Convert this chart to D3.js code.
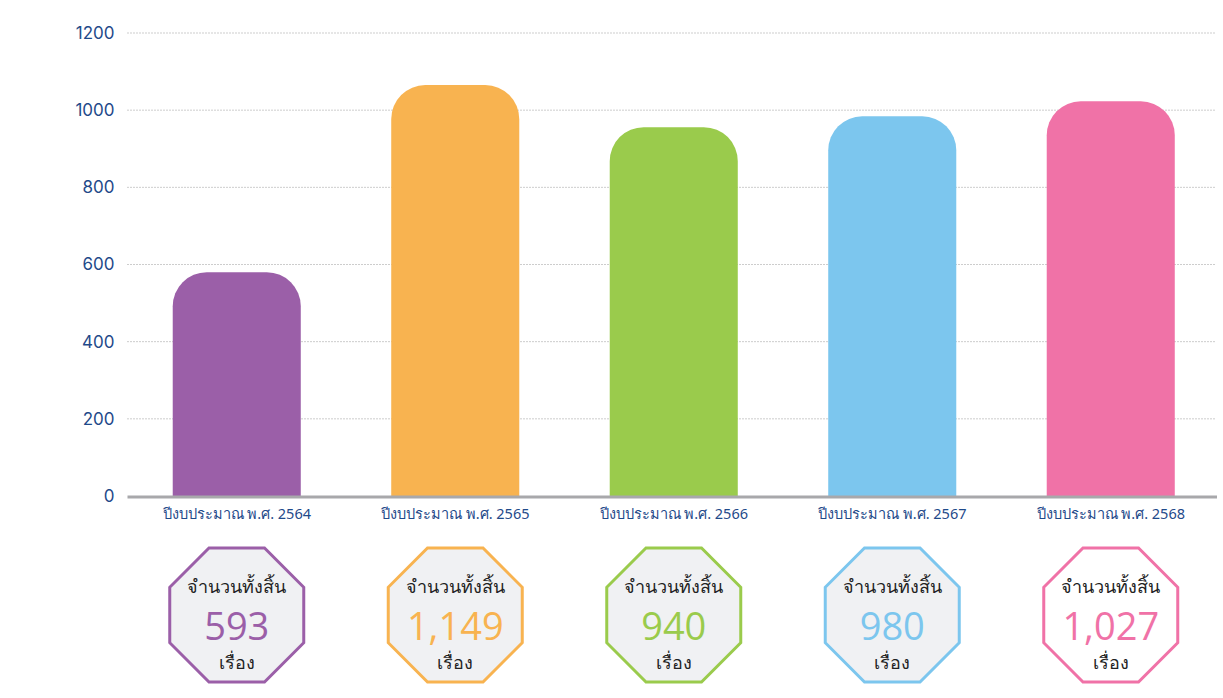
<!DOCTYPE html>
<html>
<head>
<meta charset="utf-8">
<script src="https://cdn.jsdelivr.net/npm/d3@7"></script>
<style>
  html, body { margin: 0; padding: 0; background: #fff; }
  svg { display: block; font-family: "Noto Sans", "Noto Sans CJK SC", sans-serif; }
</style>
</head>
<body>
<script>
// data
const years = ["ปีงบประมาณ พ.ศ. 2564", "ปีงบประมาณ พ.ศ. 2565", "ปีงบประมาณ พ.ศ. 2566", "ปีงบประมาณ พ.ศ. 2567", "ปีงบประมาณ พ.ศ. 2568"];
const barValues = [580, 1065, 956, 984, 1023];
const totals = [593, 1149, 940, 980, 1027];
const colors = ["#9b5fa8", "#f8b350", "#9acb4c", "#7cc6ee", "#f072a7"];
const badgeFills = ["#f0f1f3", "#f0f1f3", "#f0f1f3", "#f0f1f3", "#ffffff"];
const yTicks = [0, 200, 400, 600, 800, 1000, 1200];

const width = 1223, height = 698;
const mLeft = 127.5, mRight = 1220, mTop = 33, mBottom = 496;

const svg = d3.select("body").append("svg")
  .attr("width", width)
  .attr("height", height);

const x = d3.scaleBand()
  .domain(years)
  .range([mLeft, mRight])
  .paddingInner(0.414)
  .paddingOuter(0.207);

const y = d3.scaleLinear()
  .domain([0, 1200])
  .range([mBottom, mTop]);

// grid
svg.append("g")
  .selectAll("line")
  .data(yTicks.filter(d => d > 0))
  .join("line")
  .attr("x1", mLeft)
  .attr("x2", 1215)
  .attr("y1", d => y(d))
  .attr("y2", d => y(d))
  .attr("stroke", "#9a9a9a")
  .attr("stroke-width", 1)
  .attr("stroke-dasharray", "1,2");

// y axis labels
const yAxis = svg.append("g")
  .attr("transform", `translate(${mLeft},0)`)
  .call(d3.axisLeft(y).tickValues(yTicks).tickSize(0).tickPadding(13).tickFormat(d3.format("d")));
yAxis.select(".domain").remove();
yAxis.selectAll("text")
  .attr("fill", "#1f4a8a")
  .style("font-size", "17px")
  .style("font-family", "Inter, 'Noto Sans', sans-serif");

// bars with rounded tops
const r = 34;
function barPath(d, i) {
  const x0 = x(years[i]), w = x.bandwidth();
  const y0 = y(d), y1 = y(0);
  const rr = Math.min(r, (y1 - y0));
  return `M${x0},${y1}V${y0 + rr}A${rr},${rr} 0 0 1 ${x0 + rr},${y0}H${x0 + w - rr}A${rr},${rr} 0 0 1 ${x0 + w},${y0 + rr}V${y1}Z`;
}
svg.append("g")
  .selectAll("path")
  .data(barValues)
  .join("path")
  .attr("d", barPath)
  .attr("fill", (d, i) => colors[i]);

// baseline
svg.append("line")
  .attr("x1", mLeft)
  .attr("x2", 1217)
  .attr("y1", y(0) + 1)
  .attr("y2", y(0) + 1)
  .attr("stroke", "#a8a8ab")
  .attr("stroke-width", 3);

// category labels
svg.append("g")
  .selectAll("text")
  .data(years)
  .join("text")
  .attr("x", d => x(d) + x.bandwidth() / 2)
  .attr("y", 519)
  .attr("text-anchor", "middle")
  .attr("fill", "#1f4a8a")
  .style("font-size", "14.5px")
  .text(d => d);

// octagon badges
const cy = 615, R = 67 / Math.cos(Math.PI / 8);
const octagon = d3.range(8).map(k => {
  const a = Math.PI / 8 + k * Math.PI / 4;
  return [R * Math.cos(a), R * Math.sin(a)];
});

const badge = svg.append("g")
  .selectAll("g")
  .data(totals)
  .join("g")
  .attr("transform", (d, i) => `translate(${x(years[i]) + x.bandwidth() / 2},${cy})`);

badge.append("polygon")
  .attr("points", octagon.map(p => p.join(",")).join(" "))
  .attr("fill", (d, i) => badgeFills[i])
  .attr("stroke", (d, i) => colors[i])
  .attr("stroke-width", 3);

badge.append("text")
  .attr("y", -22)
  .attr("text-anchor", "middle")
  .attr("fill", "#222")
  .style("font-size", "18px")
  .text("จำนวนทั้งสิ้น");

badge.append("text")
  .attr("y", 25)
  .attr("text-anchor", "middle")
  .attr("fill", (d, i) => colors[i])
  .style("font-size", "38px")
  .style("font-family", "'Open Sans', sans-serif")
  .text(d => d3.format(",")(d));

badge.append("text")
  .attr("y", 54)
  .attr("text-anchor", "middle")
  .attr("fill", "#222")
  .style("font-size", "18px")
  .text("เรื่อง");
</script>
</body>
</html>
